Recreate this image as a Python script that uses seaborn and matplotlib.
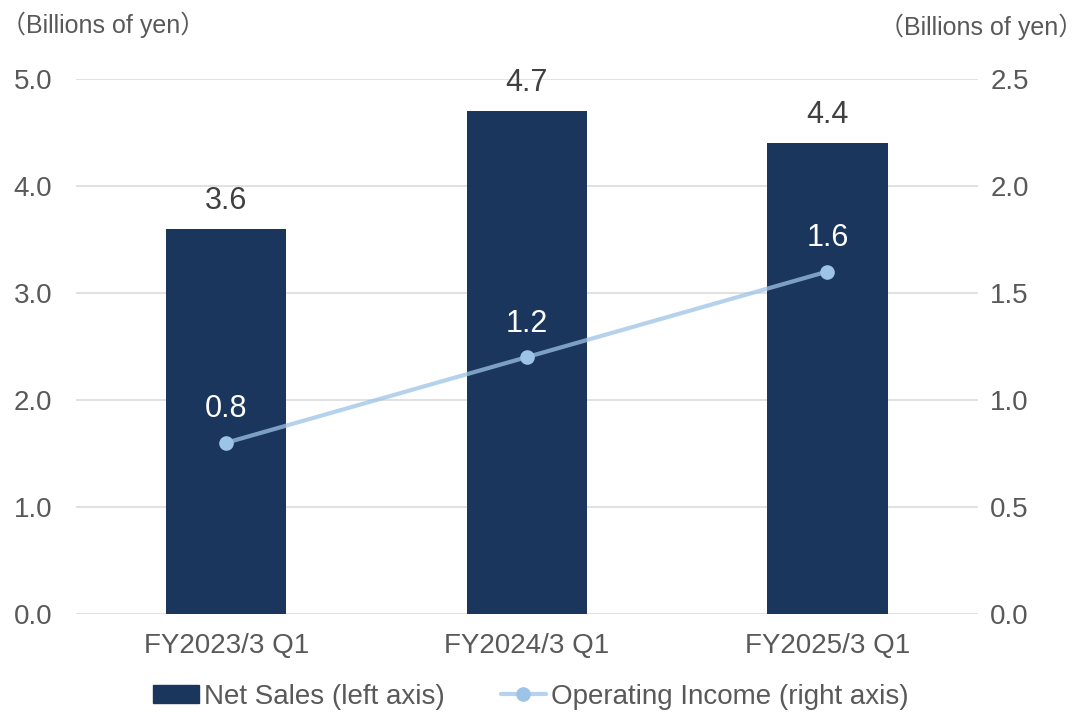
import numpy as np
import matplotlib
matplotlib.use("Agg")
import matplotlib.pyplot as plt
from matplotlib.lines import Line2D
from matplotlib.patches import Patch
import seaborn as sns
import pandas as pd

periods = ["FY2023/3 Q1", "FY2024/3 Q1", "FY2025/3 Q1"]
net_sales = [3.6, 4.7, 4.4]
operating_income = [0.8, 1.2, 1.6]
left_ticks = [0.0, 1.0, 2.0, 3.0, 4.0, 5.0]
right_ticks = [0.0, 0.5, 1.0, 1.5, 2.0, 2.5]
unit_label = "（Billions of yen）"
sales_label = "Net Sales (left axis)"
income_label = "Operating Income (right axis)"

bar_color = "#1b365d"
line_color = "#9dc3e6"
tick_color = "#595959"
label_color = "#404040"

sns.set_style("white")
plt.rcParams["font.family"] = ["Liberation Sans", "Noto Sans CJK JP", "DejaVu Sans"]

df = pd.DataFrame({"period": periods, "sales": net_sales, "income": operating_income})

fig = plt.figure(figsize=(10.84, 7.17), dpi=100)
ax = fig.add_axes([0.070, 0.1437, 0.832, 0.7463])

sns.barplot(data=df, x="period", y="sales", color=bar_color, width=0.40,
            saturation=1, linewidth=0, ax=ax)
ax.set_xlim(-0.5, 2.5)
ax.set_ylim(0, 5)
ax.set_yticks(left_ticks)
ax.set_yticklabels([f"{v:.1f}" for v in left_ticks])
ax.set_axisbelow(True)
ax.yaxis.grid(True, color="#d9d9d9", linewidth=1.1)
ax.set_xlabel("")
ax.set_ylabel("")
ax.tick_params(axis="y", length=0, pad=17, labelsize=20, labelcolor=tick_color)
ax.tick_params(axis="x", length=0, pad=14, labelsize=20, labelcolor=tick_color)
for s in ax.spines.values():
    s.set_visible(False)

for i, v in enumerate(net_sales):
    ax.annotate(f"{v:.1f}", (i, v), xytext=(0, 20), textcoords="offset points",
                ha="center", va="center", fontsize=22, color=label_color)

ax2 = ax.twinx()
xs = np.arange(len(periods))
sns.lineplot(x=xs, y=operating_income, ax=ax2, color=line_color, linewidth=3,
             alpha=0.75)
ax2.plot(xs, operating_income, linestyle="none", marker="o", markersize=9.5,
         color=line_color)
ax2.set_ylim(0, 2.5)
ax2.set_yticks(right_ticks)
ax2.set_yticklabels([f"{v:.1f}" for v in right_ticks])
ax2.tick_params(axis="y", length=0, pad=9, labelsize=20, labelcolor=tick_color)
for s in ax2.spines.values():
    s.set_visible(False)

for i, v in enumerate(operating_income):
    ax2.annotate(f"{v:.1f}", (i, v), xytext=(0, 24), textcoords="offset points",
                 ha="center", va="center", fontsize=22, color="white")

fig.text(0.001, 0.965, unit_label, ha="left", va="center", fontsize=18,
         color=tick_color)
fig.text(0.999, 0.962, unit_label, ha="right", va="center", fontsize=18,
         color=tick_color)

handles = [
    Patch(facecolor=bar_color, edgecolor=bar_color),
    Line2D([0], [0], color="#b6d2ec", linewidth=3, marker="o", markersize=9.5,
           markerfacecolor=line_color, markeredgecolor=line_color),
]
fig.legend(handles, [sales_label, income_label], loc="center",
           bbox_to_anchor=(0.49, 0.028), ncol=2, frameon=False, fontsize=20,
           labelcolor=tick_color, handlelength=1.65, handleheight=0.65,
           handletextpad=0.18, columnspacing=2.0)

fig.savefig("out.png", dpi=100)
